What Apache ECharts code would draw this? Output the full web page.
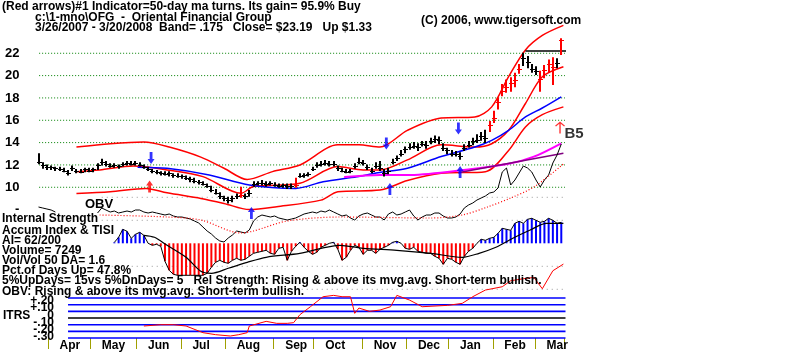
<!DOCTYPE html>
<html>
<head>
<meta charset="utf-8">
<script src="https://cdn.jsdelivr.net/npm/echarts/dist/echarts.min.js"></script>
<style>html,body{margin:0;padding:0;background:#fff;}#chart{width:800px;height:352px;}</style>
</head>
<body>
<div id="chart"></div>
<script>
// ---------------- data ----------------
// trading-day index 0 = 3/26/2007 ... 249 = 3/20/2008
const totalDays = 250;
const months = ['Apr','May','Jun','Jul','Aug','Sep','Oct','Nov','Dec','Jan','Feb','Mar'];
const monthStartDay = [5,25,47,68,89,112,131,154,175,195,216,236];

const priceTicks = [8,10,12,14,16,18,20,22];
const priceTickLabels = ['-','10','12','14','16','18','20','22'];
const priceGridLevels = [10,12,14,16,18,20,22];

// price bars, one every 2 trading days
const barStepDays = 2;
const closes = [12.3,12.0,11.8,11.8,11.7,11.6,11.5,11.3,11.7,11.5,
 11.4,11.6,11.5,11.6,12.0,12.3,12.1,11.9,12.0,11.9,
 12.1,12.2,12.1,12.2,12.0,11.8,11.6,11.5,11.4,11.3,
 11.2,11.3,11.1,11.0,11.0,10.8,10.7,10.6,10.5,10.3,
 10.1,9.8,9.5,9.2,9.0,8.9,9.0,9.2,9.3,9.2,
 9.5,10.3,10.4,10.4,10.3,10.4,10.2,10.1,10.2,10.1,
 10.1,10.2,11.0,11.1,11.2,11.6,12.0,12.1,12.2,12.1,
 12.1,11.7,11.5,11.4,11.5,11.9,12.3,12.2,11.8,11.5,
 11.9,11.7,11.3,11.5,12.3,12.6,13.0,13.4,13.6,13.7,
 13.6,13.9,13.8,14.1,14.3,14.2,13.5,13.3,13.0,13.0,
 12.8,13.5,13.8,14.1,14.2,14.6,14.4,15.6,16.2,17.6,
 18.6,19.0,19.3,19.6,20.6,21.6,21.2,20.6,20.4,19.7,
 20.5,21.0,20.8,21.1,23.19];
const highs = [13.0,12.2,12.0,11.9,11.8,11.8,11.7,11.5,11.9,11.6,
 11.6,11.7,11.7,11.7,12.1,12.5,12.3,12.1,12.1,12.0,
 12.2,12.3,12.3,12.3,12.2,12.0,11.8,11.6,11.5,11.4,
 11.4,11.4,11.2,11.2,11.1,11.0,10.9,10.8,10.6,10.5,
 10.3,10.1,9.8,9.5,9.2,9.1,9.2,9.4,10.0,9.4,
 9.7,10.5,10.5,10.6,10.5,10.5,10.4,10.3,10.3,10.3,
 10.3,10.8,11.2,11.2,11.3,11.8,12.2,12.3,12.4,12.3,
 12.3,11.9,11.7,11.6,11.6,12.1,12.6,12.4,12.0,11.7,
 12.2,12.3,11.6,11.7,12.5,12.8,13.3,13.6,13.9,14.0,
 13.9,14.1,14.1,14.4,14.6,14.5,13.9,13.5,13.3,13.2,
 13.1,13.8,14.1,14.4,14.7,14.9,15.1,15.9,16.8,18.0,
 19.2,19.6,19.8,20.2,21.0,22.0,21.7,21.0,20.8,20.4,
 20.9,21.4,21.6,21.5,23.3];
const lows = [12.1,11.7,11.6,11.6,11.5,11.5,11.4,11.1,11.5,11.3,
 11.3,11.4,11.4,11.4,11.6,12.0,11.9,11.8,11.8,11.7,
 11.9,12.0,12.0,12.0,11.9,11.7,11.5,11.3,11.2,11.1,
 11.1,11.0,10.9,10.9,10.8,10.7,10.5,10.4,10.3,10.2,
 10.0,9.6,9.4,9.0,8.8,8.6,8.7,9.0,9.1,9.0,
 9.2,10.1,10.2,10.2,10.1,10.2,10.1,10.0,10.0,9.9,
 9.9,10.0,10.9,10.9,11.0,11.5,11.8,11.9,12.0,11.9,
 11.9,11.5,11.4,11.3,11.3,11.7,12.1,12.0,11.6,11.3,
 11.7,11.5,11.0,11.2,12.1,12.4,12.8,13.1,13.4,13.5,
 13.3,13.7,13.5,13.9,14.0,13.9,13.3,13.0,12.8,12.8,
 12.5,13.3,13.6,13.8,14.0,14.2,14.0,15.0,15.8,17.0,
 18.2,18.5,18.6,19.0,20.2,20.9,20.7,20.3,20.1,18.6,
 19.8,20.3,19.2,20.7,21.9];
const redBarDays = [96,122,214,216,218,220,222,224,226,228,238,240,242,244,248];

// 50-day moving average (blue)
const ma50Days = [47,61,81,100,122,135,151,161,175,191,207,215,223,231,239,248];
const ma50Vals = [11.8,11.7,11.1,10.2,9.9,10.5,10.95,11.3,11.7,12.75,13.6,14.2,15.1,16.3,17.1,18.1];
// 21-day ma and its bands (red)
const midDays = [18,29,45,61,78,96,102,124,142,154,162,175,191,207,215,223,231,239,249];
const midVals = [11.4,11.55,11.9,11.55,10.95,9.46,10.06,10.36,11.85,11.55,11.55,12.45,13.8,13.6,13.9,15.1,17.5,19.9,20.8];
const upperDays = [18,34,50,62,77,88,99,111,124,142,152,162,175,191,207,215,223,231,239,249];
const upperVals = [13.6,13.9,14.05,13.6,12.7,11.7,10.7,11.4,12.0,13.8,13.8,13.6,15.1,16.2,16.3,17.2,19.9,22.3,23.6,24.5];
const lowerDays = [18,34,51,61,77,88,100,113,134,142,162,175,191,212,223,231,239,249];
const lowerVals = [9.45,9.6,9.9,9.5,9.0,8.55,8.0,8.25,8.85,9.6,9.75,10.6,11.25,11.4,13.3,15.4,16.5,17.2];
// other overlays on the price panel
const magentaDays = [145,162,175,195,223,235,248];
const magentaVals = [10.92,11.1,11.1,11.4,12.1,12.74,13.94];
const purpleDays = [199,249];
const purpleVals = [11.3,13.05];
const resistDays = [231,258];
const resistVals = [22.2,22.2];
// arrows
const blueDownDays = [53.4,165,199.2];
const blueDownPrices = [12.62,13.92,15.26];
const blueUpDays = [101,166.7,200];
const blueUpPrices = [7.7,9.85,11.37];
const redUpDays = [52.7];
const redUpPrices = [10.07];
const thinUpDays = [247.4];
const thinUpPrices = [15.36];
const signalDays = [249];
const signalPrices = [14.77];
const signalText = 'B5';

// OBV (arbitrary units), one every 2 days; null = hidden
const obvStepDays = 2;
const obvVals = [43,42,41,40,38,null,null,null,null,null,
 null,null,null,null,37,42,40,38,39,37,
 38,39,38,40,40,38,37,38,37,36,
 35,36,34,33,33,32,31,29,27,23,
 19,16,12,9,8,12,15,19,18,17,
 20,29,33,35,34,33,34,32,31,30,
 31,32,34,36,37,38,37,39,38,40,
 38,36,34,35,32,30,34,36,37,35,
 33,33,30,36,38,35,36,38,40,34,
 30,33,35,35,37,37,34,32,32,33,
 36,42,45,47,50,52,54,57,58,62,
 78,82,65,70,77,84,82,78,70,63,
 70,75,87,95,106];
const obvMaDays = [29,61,77,96,102,118,143,186,201,213,224,235,249];
const obvMaVals = [35,33,30,17,19,29,33,32,35,43,52,63,86];

// Accumulation index (histogram), one every 2 days from day 36
const aiStartDay = 36;
const aiStepDays = 2;
const aiVals = [1,6,14,12,5,9,11,8,0,-2,
 -1,-3,-18,-27,-31,-32,-32,-32,-32,-32,
 -32,-32,-30,-24,-19,-17,-19,-20,-17,-15,
 -17,-16,-13,-10,-9,-8,-7,-10,-11,-5,
 -4,-17,-8,-3,1,-4,-8,-11,-9,-4,
 -2,0,1,-6,-17,-14,-7,-2,-4,-11,
 -7,-7,-10,-6,-4,-2,1,2,0,-5,
 -6,-4,-8,-9,-10,-10,-13,-15,-21,-15,
 -16,-19,-21,-13,-8,-5,0,4,3,5,
 6,10,15,14,13,20,22,20,24,25,
 23,21,22,25,23,20,21];
const aiMaDays = [50,55,61,70,77,82,90,99,108,124,143,154,170,186,201,209,217,225,233,241,249];
const aiMaVals = [8,6,-2,-14,-28,-30,-25,-19,-14,-10,-2,-5,-7,-10,-14,-10,-4,5,13,20,20];
const aiRefLevels = [46,23,-23,-46];

// ITRS
const itrsDays = [50,58,64,70,78,84,91,95,99,100,108,113,118,121,124,129,135,140,144,148,150,152,157,162,167,170,176,182,194,201,206,212,220,224,230,235,239,244,249];
const itrsVals = [-0.12,-0.10,-0.10,-0.12,-0.22,-0.25,-0.27,-0.25,-0.22,-0.12,-0.05,-0.08,-0.08,-0.07,0.05,0.17,0.32,0.34,0.32,0.32,0.07,0.15,0.10,0.12,0.17,0.34,0.27,0.17,0.19,0.22,0.32,0.42,0.47,0.56,0.59,0.61,0.44,0.71,0.81];
const itrsLevels = [0.3,0.2,0.1,0,-0.1,-0.2,-0.3];
const itrsTickLabels = ['+.20','+.10','0','-.10','-.20','-.30'];

// texts
const titleLine = '(Red arrows)#1 Indicator=50-day ma turns. Its gain= 95.9% Buy';
const fileLine = 'c:\\1-mno\\OFG  -  Oriental Financial Group';
const rangeLine = '3/26/2007 - 3/20/2008  Band= .175   Close= $23.19   Up $1.33';
const copyLine = '(C) 2006, www.tigersoft.com';
const statLines = ['Internal Strength','Accum Index & TISI','AI= 62/200','Volume= 7249','Vol/Vol 50 DA= 1.6',
  'Pct.of Days Up= 47.8%','5%UpDays= 15vs 5%DnDays= 5   Rel Strength: Rising & above its mvg.avg. Short-term bullish.',
  'OBV: Rising & above its mvg.avg. Short-term bullish.'];

// ---------------- chart ----------------
const FONT = '"Liberation Sans", Arial, sans-serif';
const BOLD = 'bold 12px ' + FONT;
const pairs = (xs, ys) => xs.map((x, i) => [x, ys[i]]);
const stepPairs = (start, step, vals) => vals.map((v, i) => [start + i * step, v]);

const GL = 37.45, GW = 527;
const grids = [
  {left: GL, width: GW, top: 8.6, height: 201},      // price
  {left: GL, width: GW, top: 100, height: 150},      // OBV overlay
  {left: GL, width: GW, top: 193.3, height: 100},    // accumulation index
  {left: GL, width: GW, top: 258.1, height: 81.2}    // ITRS + month axis
];
const valX = (g) => ({gridIndex: g, type: 'value', min: -0.5, max: totalDays - 0.5, show: false});
const dayCats = Array.from({length: totalDays}, (_, i) => String(i));
const labelIdx = monthStartDay.map(s => s + 5);

const priceBars = highs.map((h, i) => [i * barStepDays, h, lows[i], closes[i]]);
const barColors = priceBars.map(b => redBarDays.includes(b[0]) ? '#ff0000' : '#000000');

const blueArrow = 'path://M4,0 L8,5 L5.6,5 L5.6,12 L2.4,12 L2.4,5 L0,5 Z';
const thinArrow = 'path://M5,0 L10,5 L9,6 L5.7,2.7 L5.7,14 L4.3,14 L4.3,2.7 L1,6 L0,5 Z';

const lineS = (xi, yi, data, color, width, extra) => Object.assign({
  type: 'line', xAxisIndex: xi, yAxisIndex: yi, data: data, showSymbol: false, symbol: 'none',
  lineStyle: {color: color, width: width}, silent: true, clip: false, z: 3
}, extra || {});
const hLine = (xi, yi, x1, x2, v, color, width, dash, z) => lineS(xi, yi, [[x1, v], [x2, v]], color, width,
  {lineStyle: {color: color, width: width, type: dash}, z: z});

const series = [];
// green dotted grid lines on the price panel
priceGridLevels.forEach(p => series.push(hLine(0, 0, 0.3, 250.7, p, '#008000', 1, [1, 2], 1)));
// gray dotted reference levels of the accumulation panel
aiRefLevels.forEach(v => series.push(hLine(2, 2, 30, 250.7, v, '#999999', 1, [1, 4], 1)));
// ITRS horizontal levels
itrsLevels.forEach(v => series.push(hLine(3, 3, 14, 249.6, v, v === 0 ? '#000000' : '#0000ff', 1.6, 'solid', 1)));

series.push(
  lineS(0, 0, pairs(upperDays, upperVals), '#ff0000', 1.5, {smooth: 0.3}),
  lineS(0, 0, pairs(midDays, midVals), '#ff0000', 1.5, {smooth: 0.3}),
  lineS(0, 0, pairs(lowerDays, lowerVals), '#ff0000', 1.5, {smooth: 0.3}),
  lineS(0, 0, pairs(ma50Days, ma50Vals), '#0000ff', 1.5, {smooth: 0.3}),
  lineS(0, 0, pairs(magentaDays, magentaVals), '#ff00ff', 2, {smooth: 0.3}),
  lineS(0, 0, pairs(purpleDays, purpleVals), '#800080', 1.5),
  lineS(0, 0, pairs(resistDays, resistVals), '#000000', 1.5),
  // OBV
  lineS(1, 1, stepPairs(0, obvStepDays, obvVals), '#000000', 1, {connectNulls: false}),
  lineS(1, 1, pairs(obvMaDays, obvMaVals), '#ff0000', 1.2, {smooth: 0.3, lineStyle: {color: '#ff0000', width: 1.2, type: [1, 2]}}),
  // price bars
  {
    type: 'custom', xAxisIndex: 0, yAxisIndex: 0, data: priceBars, z: 6, silent: true,
    encode: {x: 0, y: [1, 2, 3]},
    renderItem: (params, api) => {
      const d = api.value(0);
      const h = api.coord([d, api.value(1)]);
      const l = api.coord([d, api.value(2)]);
      const c = api.coord([d, api.value(3)]);
      const col = barColors[params.dataIndex];
      const x = Math.round(h[0]);
      const cy = Math.round(c[1]) + 0.5;
      return {type: 'group', children: [
        {type: 'line', shape: {x1: x, y1: h[1] - 0.5, x2: x, y2: l[1] + 0.5}, style: {stroke: col, lineWidth: 2}},
        {type: 'line', shape: {x1: x - 2, y1: cy, x2: x + 3, y2: cy}, style: {stroke: col, lineWidth: 1}}
      ]};
    }
  },
  // arrows
  {type: 'scatter', xAxisIndex: 0, yAxisIndex: 0, data: pairs(blueDownDays, blueDownPrices), symbol: blueArrow,
    symbolSize: [7, 12], symbolRotate: 180, itemStyle: {color: '#0000ff'}, clip: false, z: 8, silent: true},
  {type: 'scatter', xAxisIndex: 0, yAxisIndex: 0, data: pairs(blueUpDays, blueUpPrices), symbol: blueArrow,
    symbolSize: [7, 12], itemStyle: {color: '#0000ff'}, clip: false, z: 8, silent: true},
  {type: 'scatter', xAxisIndex: 0, yAxisIndex: 0, data: pairs(redUpDays, redUpPrices), symbol: blueArrow,
    symbolSize: [7, 12], itemStyle: {color: '#ff0000'}, clip: false, z: 8, silent: true},
  {type: 'scatter', xAxisIndex: 0, yAxisIndex: 0, data: pairs(thinUpDays, thinUpPrices), symbol: thinArrow,
    symbolSize: [10, 12], itemStyle: {color: '#ff0000'}, clip: false, z: 8, silent: true},
  {type: 'scatter', xAxisIndex: 0, yAxisIndex: 0, data: pairs(signalDays, signalPrices), symbol: 'circle',
    symbolSize: 0, clip: false, z: 8, silent: true,
    label: {show: true, position: 'right', distance: 1, formatter: signalText, color: '#000',
      fontFamily: FONT, fontWeight: 'bold', fontSize: 15}},
  // Accumulation index
  {type: 'bar', xAxisIndex: 2, yAxisIndex: 2, data: stepPairs(aiStartDay, aiStepDays, aiVals), barWidth: 2,
    silent: true, z: 2, itemStyle: {color: p => p.value[1] >= 0 ? '#0000ff' : '#ff0000'}},
  lineS(2, 2, stepPairs(aiStartDay, aiStepDays, aiVals), '#000000', 1),
  lineS(2, 2, pairs(aiMaDays, aiMaVals), '#000000', 1.2, {smooth: 0.3}),
  // ITRS
  lineS(3, 3, pairs(itrsDays, itrsVals), '#ff0000', 1, {z: 4})
);

const graphics = [];
const addText = (t, x, y, font, align) => graphics.push({type: 'text', x: x, y: y, z: 20,
  style: {text: t, font: font || BOLD, fill: '#000', verticalAlign: 'middle', align: align || 'left'}});
addText(titleLine, 2, 7);
addText(fileLine, 35, 18);
addText(rangeLine, 35, 28);
addText(copyLine, 421, 21);
addText('OBV', 85, 204, 'bold 13px ' + FONT);
const statY = [219, 231, 241, 251, 261, 271, 281, 292];
statLines.forEach((t, i) => addText(t, 2, statY[i]));
addText('ITRS', 3, 316);
const itrsLabY = [301, 308, 316, 323, 330, 337];
itrsTickLabels.forEach((t, i) => addText(t, 54, itrsLabY[i], BOLD, 'right'));

const option = {
  animation: false,
  backgroundColor: '#ffffff',
  grid: grids,
  xAxis: [valX(0), valX(1), valX(2), {
    gridIndex: 3, type: 'category', data: dayCats, boundaryGap: true, position: 'bottom',
    axisLine: {show: false, onZero: false},
    axisTick: {show: true, interval: (i) => monthStartDay.includes(i), length: 11, inside: false,
      lineStyle: {color: '#a0a000', width: 1}},
    axisLabel: {show: true, interval: (i) => labelIdx.includes(i), align: 'left', margin: 2,
      formatter: (v) => months[labelIdx.indexOf(Number(v))] || '',
      color: '#000', fontFamily: FONT, fontWeight: 'bold', fontSize: 12},
    splitLine: {show: false}
  }],
  yAxis: [
    {gridIndex: 0, type: 'value', min: 8, max: 26, interval: 2, splitLine: {show: false},
      axisLine: {show: false}, axisTick: {show: false},
      axisLabel: {margin: 18, color: '#000', fontFamily: FONT, fontWeight: 'bold', fontSize: 13,
        formatter: v => { const k = priceTicks.indexOf(v); return k >= 0 ? priceTickLabels[k] : ''; }}},
    {gridIndex: 1, type: 'value', min: 0, max: 150, show: false},
    {gridIndex: 2, type: 'value', min: -50, max: 50, show: false},
    {gridIndex: 3, type: 'value', min: -0.3, max: 0.9, show: false}
  ],
  series: series,
  graphic: graphics
};
const chart = echarts.init(document.getElementById('chart'));
chart.setOption(option);
</script>
</body>
</html>
